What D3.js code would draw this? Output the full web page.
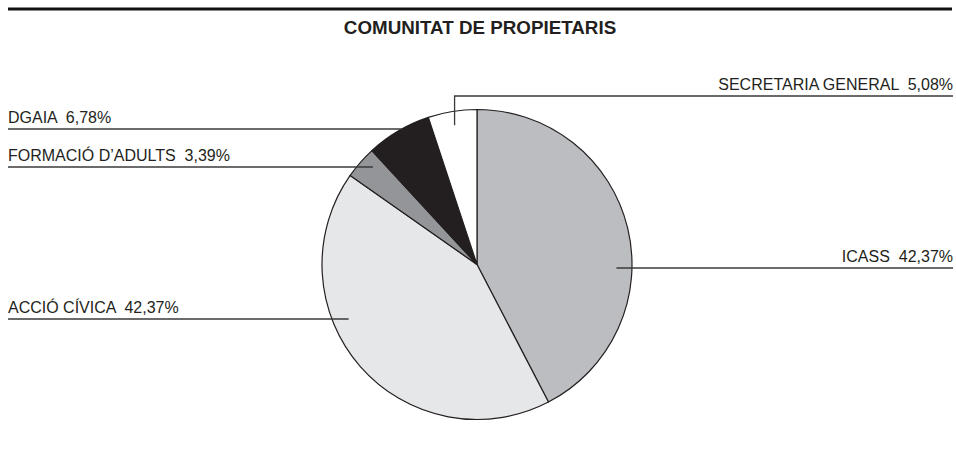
<!DOCTYPE html>
<html>
<head>
<meta charset="utf-8">
<script src="https://cdn.jsdelivr.net/npm/d3@7"></script>
<style>
  body { margin: 0; background: #fff; }
  text { font-family: "Liberation Sans", Arial, Helvetica, sans-serif; fill: #231f20; white-space: pre; }
</style>
</head>
<body>
<div id="chart"></div>
<script>
// chart data
var title = "COMUNITAT DE PROPIETARIS";
var categories = ["ICASS", "ACCIÓ CÍVICA", "FORMACIÓ D’ADULTS", "DGAIA", "SECRETARIA GENERAL"];
var values = [42.37, 42.37, 3.39, 6.78, 5.08];
var colors = ["#bcbdc0", "#e6e7e8", "#939598", "#231f20", "#ffffff"];

// label layout: side of the page, leader line y, anchor radius (fraction of r)
var labelSide = ["right", "left", "left", "left", "elbow"];
var labelLineY = [268, 319, 167, 129, 96];
var labelAnchorR = [0.9, 0.9, 0.92, 1.0, 0.91];

var width = 956;
var height = 450;
var cx = 477, cy = 264.5, r = 155;
var labelSize = "16px";

var svg = d3.select("#chart").append("svg")
	.attr("width", width)
	.attr("height", height);

// top rule
svg.append("rect")
	.attr("x", 8).attr("y", 7.5)
	.attr("width", 944).attr("height", 3)
	.attr("fill", "#111");

svg.append("text")
	.attr("x", 480).attr("y", 34)
	.attr("text-anchor", "middle")
	.style("font-size", "18.8px")
	.style("font-weight", "bold")
	.text(title);

var pie = d3.pie().sort(null).value(function (d) { return d; });
var arc = d3.arc().innerRadius(0).outerRadius(r);
var arcs = pie(values);

var g = svg.append("g").attr("transform", "translate(" + cx + "," + cy + ")");
g.selectAll("path")
	.data(arcs)
	.enter()
	.append("path")
	.attr("d", arc)
	.attr("fill", function (d, i) { return colors[i]; })
	.attr("stroke", "#231f20")
	.attr("stroke-width", 1.2)
	.attr("stroke-linejoin", "round");

var fmt = function (v) { return d3.format(".2f")(v).replace(".", ","); };
var lineColor = "#3a3a3a";

arcs.forEach(function (d, i) {
	var side = labelSide[i];
	var ly = labelLineY[i];
	var rr = labelAnchorR[i] * r;
	var txt = categories[i] + "  " + fmt(values[i]) + "%";
	if (side === "elbow") {
		var a = (d.startAngle + d.endAngle) / 2;
		var ax = cx + rr * Math.sin(a);
		var ay = cy - rr * Math.cos(a);
		svg.append("path")
			.attr("d", "M" + ax + "," + ay + "V" + ly + "H953")
			.attr("fill", "none")
			.attr("stroke", lineColor)
			.attr("stroke-width", 1.3);
		svg.append("text")
			.attr("x", 953).attr("y", ly - 6)
			.attr("text-anchor", "end")
			.style("font-size", labelSize)
			.text(txt);
		return;
	}
	var dx = Math.sqrt(Math.max(0, rr * rr - (ly - cy) * (ly - cy)));
	if (side === "right") {
		svg.append("line")
			.attr("x1", cx + dx).attr("x2", 953)
			.attr("y1", ly).attr("y2", ly)
			.attr("stroke", lineColor)
			.attr("stroke-width", 1.3);
		svg.append("text")
			.attr("x", 953).attr("y", ly - 6)
			.attr("text-anchor", "end")
			.style("font-size", labelSize)
			.text(txt);
	} else {
		svg.append("line")
			.attr("x1", 8).attr("x2", cx - dx)
			.attr("y1", ly).attr("y2", ly)
			.attr("stroke", lineColor)
			.attr("stroke-width", 1.3);
		svg.append("text")
			.attr("x", 8).attr("y", ly - 6)
			.style("font-size", labelSize)
			.text(txt);
	}
});
</script>
</body>
</html>
